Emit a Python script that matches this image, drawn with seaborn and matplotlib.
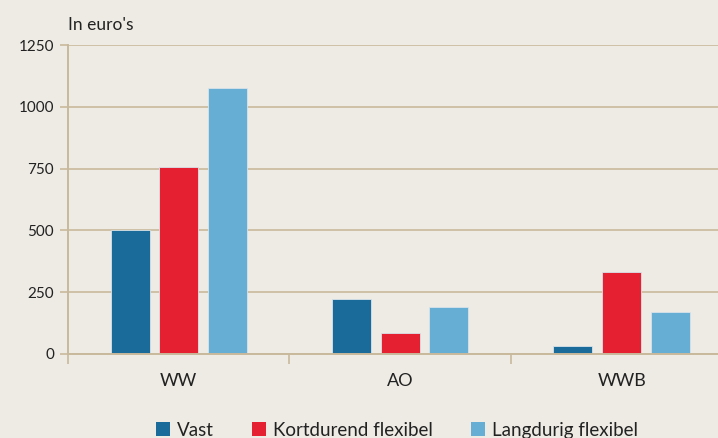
import pandas as pd
import numpy as np
import matplotlib.pyplot as plt
import seaborn as sns
from matplotlib.patches import Patch

categories = ['WW', 'AO', 'WWB']
series = ['Vast', 'Kortdurend flexibel', 'Langdurig flexibel']
vast = [500, 222, 30]
kortdurend = [755, 85, 330]
langdurig = [1075, 190, 170]
colors = ['#1b6b9a', '#e52030', '#66aed3']
yticks = [0, 250, 500, 750, 1000, 1250]

df = pd.DataFrame({
    'categorie': categories * 3,
    'type': [s for s in series for _ in categories],
    'waarde': vast + kortdurend + langdurig,
})

bg = '#eeebe4'
tan = '#c9b99c'

sns.set_theme(style='white')
plt.rcParams['font.family'] = ['Lato', 'DejaVu Sans']

fig = plt.figure(figsize=(7.18, 4.38), dpi=100, facecolor=bg)
ax = fig.add_axes([0.0947, 0.192, 0.91, 0.705])
ax.set_facecolor(bg)

sns.barplot(data=df, x='categorie', y='waarde', hue='type', palette=colors,
            saturation=1, width=0.66, gap=0.2, order=categories, hue_order=series,
            edgecolor='#d8e3ea', linewidth=0.6, legend=False, ax=ax)

ax.set_ylim(0, 1250)
ax.set_xlim(-0.5, 2.45)
ax.set_yticks(yticks)
ax.set_yticklabels([str(t) for t in yticks], fontsize=11, color='#222222')
ax.yaxis.grid(True, color=tan, linewidth=1.2)
ax.set_axisbelow(True)
ax.tick_params(axis='y', length=6, width=1.2, color=tan, pad=4, left=True)

# category separators as minor ticks, no major ticks
ax.set_xticks([0.5, 1.5, -0.5], minor=True)
ax.tick_params(axis='x', which='major', length=0, pad=14, labelsize=13, labelcolor='#222222')
ax.tick_params(axis='x', which='minor', length=7, width=1.2, color=tan, bottom=True)

ax.set_xlabel('')
ax.set_ylabel('')
for s in ['top', 'right']:
    ax.spines[s].set_visible(False)
ax.spines['left'].set_color(tan)
ax.spines['left'].set_linewidth(1.4)
ax.spines['bottom'].set_color(tan)
ax.spines['bottom'].set_linewidth(1.4)

fig.text(0.0947, 0.925, "In euro's", fontsize=12.5, color='#222222', ha='left', va='bottom')

handles = [Patch(facecolor=c, edgecolor='none') for c in colors]
fig.legend(handles, series, loc='lower center', bbox_to_anchor=(0.553, -0.04), ncol=3,
           frameon=False, fontsize=13.5, handlelength=0.75, handleheight=0.75,
           handletextpad=0.4, columnspacing=2.0, labelcolor='#222222')

fig.savefig('out.png', dpi=100, facecolor=bg)
